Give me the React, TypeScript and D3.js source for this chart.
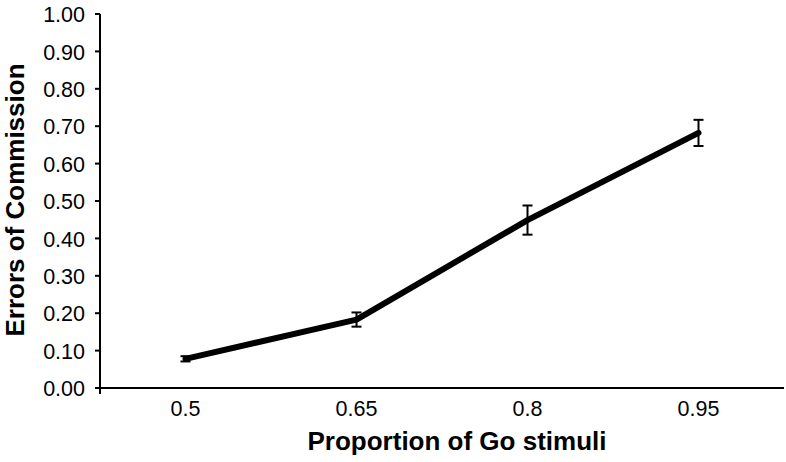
import React from 'react';
import { scaleBand, scaleLinear, line, range } from 'd3';

const categories = ['0.5', '0.65', '0.8', '0.95'];
const errorRate = [0.078, 0.183, 0.449, 0.682];
const errorSE = [0.007, 0.019, 0.039, 0.035];
const yTicks = range(0, 11).map((i) => i / 10);

const width = 786;
const height = 462;
const margin = { top: 14, right: 2, bottom: 74, left: 100 };

const App = () => {
  const xScale = scaleBand()
    .domain(categories)
    .range([margin.left, width - margin.right]);

  const yScale = scaleLinear()
    .domain([0, 1])
    .range([height - margin.bottom, margin.top]);

  const cx = (c: string) => (xScale(c) as number) + xScale.bandwidth() / 2;
  const pts = categories.map((c, i) => ({ c, v: errorRate[i], e: errorSE[i] }));

  const path = line<{ c: string; v: number }>()
    .x((d) => cx(d.c))
    .y((d) => yScale(d.v));

  const y0 = yScale(0);
  const font = '"Liberation Sans", Arial, sans-serif';

  return (
    <svg width={width} height={height} style={{ display: 'block', position: 'absolute', left: 0, top: 0 }} fontFamily={font}>
      <rect width={width} height={height} fill="#fff" />
      {/* y axis */}
      <line x1={margin.left} x2={margin.left} y1={yScale(1)} y2={y0 + 6} stroke="#000" strokeWidth={2} />
      {yTicks.map((t) => (
        <g key={t} transform={`translate(0,${yScale(t)})`}>
          <line x1={margin.left - 5} x2={margin.left} stroke="#000" strokeWidth={2} />
          <text x={margin.left - 15} dy="0.38em" textAnchor="end" fontSize={21.5}>
            {t.toFixed(2)}
          </text>
        </g>
      ))}
      {/* x axis */}
      <line x1={margin.left} x2={width - margin.right} y1={y0} y2={y0} stroke="#000" strokeWidth={2} />
      {categories.map((c) => (
        <text key={c} x={cx(c)} y={y0 + 28} textAnchor="middle" fontSize={21.5}>
          {c}
        </text>
      ))}
      {/* series */}
      <path d={path(pts) || ''} fill="none" stroke="#000" strokeWidth={6} strokeLinejoin="round" strokeLinecap="round" />
      {pts.map((d) => (
        <g key={d.c} stroke="#000" strokeWidth={2}>
          <line x1={cx(d.c)} x2={cx(d.c)} y1={yScale(d.v - d.e)} y2={yScale(d.v + d.e)} />
          <line x1={cx(d.c) - 5} x2={cx(d.c) + 5} y1={yScale(d.v - d.e)} y2={yScale(d.v - d.e)} />
          <line x1={cx(d.c) - 5} x2={cx(d.c) + 5} y1={yScale(d.v + d.e)} y2={yScale(d.v + d.e)} />
        </g>
      ))}
      {/* labels */}
      <text x={457} y={450} textAnchor="middle" fontSize={26} fontWeight="bold">
        Proportion of Go stimuli
      </text>
      <text transform={`translate(24,${(yScale(0) + yScale(1)) / 2 - 1}) rotate(-90)`} textAnchor="middle" fontSize={26} fontWeight="bold">
        Errors of Commission
      </text>
    </svg>
  );
};

export default App;
